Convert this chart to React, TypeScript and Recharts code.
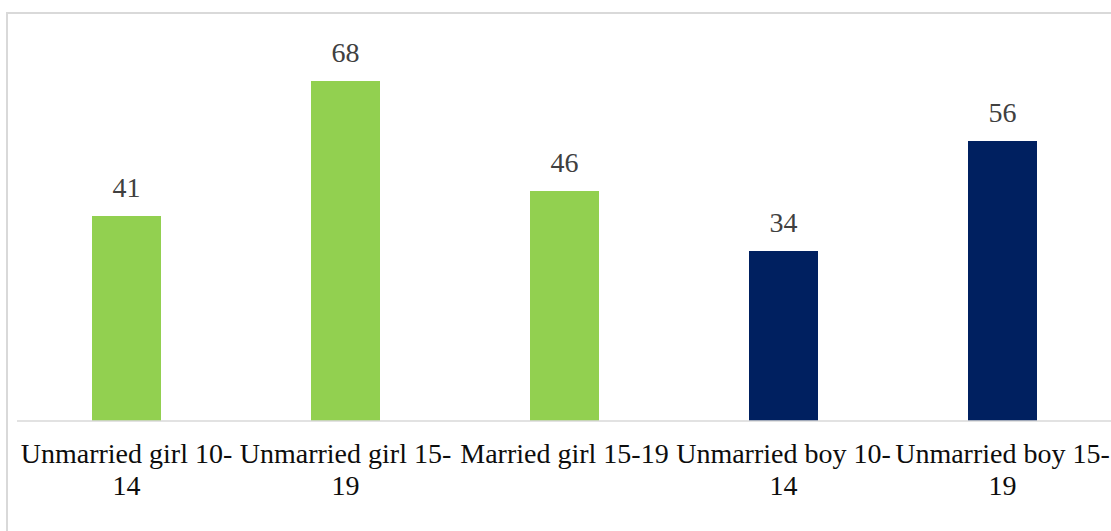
import React from "react";
import { BarChart, Bar, XAxis, YAxis, Cell, LabelList } from "recharts";

const categories = [
  "Unmarried girl 10-14",
  "Unmarried girl 15-19",
  "Married girl 15-19",
  "Unmarried boy 10-14",
  "Unmarried boy 15-19",
];
const tickLines = [
  ["Unmarried girl 10-", "14"],
  ["Unmarried girl 15-", "19"],
  ["Married girl 15-19"],
  ["Unmarried boy 10-", "14"],
  ["Unmarried boy 15-", "19"],
];
const values = [41, 68, 46, 34, 56];
const barColors = ["#92D050", "#92D050", "#92D050", "#002060", "#002060"];

const data = categories.map((name, i) => ({ name, value: values[i], idx: i }));

const FONT = "'Liberation Serif', 'Times New Roman', serif";

const Tick = (props: any) => {
  const { x, y, index } = props;
  const lines = tickLines[index] || [];
  return (
    <g>
      {lines.map((l: string, i: number) => (
        <text
          key={i}
          x={x}
          y={y + 42 + i * 32}
          textAnchor="middle"
          style={{ fontFamily: FONT, fontSize: 28 }}
          fill="#0d0d0d"
        >
          {l}
        </text>
      ))}
    </g>
  );
};

const ValueLabel = (props: any) => {
  const { x, y, width, value } = props;
  return (
    <text
      x={x + width / 2}
      y={y - 19}
      textAnchor="middle"
      style={{ fontFamily: FONT, fontSize: 28 }}
      fill="#404040"
    >
      {value}
    </text>
  );
};

export default function App() {
  return (
    <div style={{ position: "fixed", left: 0, top: 0, width: 1111, height: 531, overflow: "hidden", background: "#fff" }}>
      <div style={{ position: "absolute", left: 0, top: 0 }}>
        <BarChart
          width={1112}
          height={531}
          data={data}
          margin={{ top: 21, right: 0, bottom: 0, left: 17 }}
        >
          <YAxis hide domain={[0, 80]} />
          <XAxis
            dataKey="name"
            interval={0}
            height={110}
            tickLine={false}
            tickSize={0}
            tickMargin={0}
            axisLine={{ stroke: "#d9d9d9", strokeWidth: 1.5 }}
            tick={<Tick />}
          />
          <Bar dataKey="value" barSize={69} isAnimationActive={false}>
            {data.map((d, i) => (
              <Cell key={i} fill={barColors[i]} />
            ))}
            <LabelList dataKey="value" content={<ValueLabel />} />
          </Bar>
        </BarChart>
      </div>
      <div
        style={{
          position: "absolute",
          left: 6,
          top: 12,
          width: 1200,
          height: 600,
          borderLeft: "2px solid #d9d9d9",
          borderTop: "2px solid #d9d9d9",
          boxSizing: "border-box",
          pointerEvents: "none",
        }}
      />
    </div>
  );
}
